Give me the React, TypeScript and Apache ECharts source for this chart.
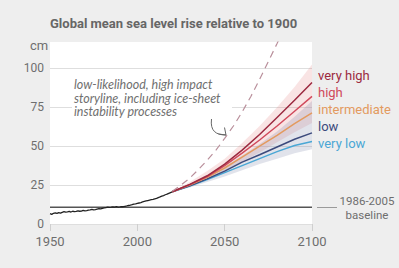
import React, { useEffect, useRef } from "react";
import * as echarts from "echarts";

// ---- data ----
const obsYears = [
  1950, 1951, 1952, 1953, 1954, 1955, 1956, 1957, 1958, 1959,
  1960, 1961, 1962, 1963, 1964, 1965, 1966, 1967, 1968, 1969,
  1970, 1971, 1972, 1973, 1974, 1975, 1976, 1977, 1978, 1979,
  1980, 1981, 1982, 1983, 1984, 1985, 1986, 1987, 1988, 1989,
  1990, 1991, 1992, 1993, 1994, 1995, 1996, 1997, 1998, 1999,
  2000, 2001, 2002, 2003, 2004, 2005, 2006, 2007, 2008, 2009,
  2010, 2011, 2012, 2013, 2014, 2015, 2016, 2017, 2018, 2019, 2020,
];
const obsValues = [
  6.6, 6.2, 6.9, 7.1, 6.8, 7.3, 7.0, 7.5, 7.9, 7.6,
  7.8, 8.1, 7.7, 8.2, 8.0, 8.1, 8.4, 8.2, 8.3, 8.7,
  8.5, 8.6, 8.9, 9.1, 9.4, 9.1, 9.3, 9.6, 9.9, 9.7,
  10.0, 10.3, 10.6, 10.9, 10.7, 10.8, 11.0, 10.8, 11.1, 10.9,
  11.0, 11.2, 11.1, 11.4, 11.6, 11.9, 12.1, 12.4, 12.8, 12.9,
  13.2, 13.5, 13.8, 14.2, 14.5, 14.8, 15.1, 15.4, 15.7, 15.9,
  16.2, 16.5, 17.0, 17.4, 17.9, 18.3, 18.8, 19.2, 19.7, 20.2, 20.7,
];

const scenYears = [2020, 2030, 2040, 2050, 2060, 2070, 2080, 2090, 2100];
const veryHigh = [20.7, 25.5, 31, 38.5, 47.5, 57.5, 68.5, 79.5, 91];
const high = [20.7, 25.3, 30.5, 37.5, 45.5, 54, 63, 72.5, 82];
const intermediate = [20.7, 25, 30, 36, 43, 50, 57, 64.5, 71.5];
const low = [20.7, 24.6, 29, 34, 39.8, 44.5, 49.5, 54.5, 58.6];
const veryLow = [20.7, 24.4, 28.5, 33, 37.5, 42, 46.5, 50.5, 53];

const pinkLower = [20.7, 24.5, 29, 34, 40, 46, 52.5, 59, 65];
const pinkUpper = [20.7, 27, 34, 42, 52, 63, 75, 88, 102.5];
const greyLower = [20.7, 23.5, 27, 30.5, 34.5, 38.5, 42, 45.5, 48];
const greyUpper = [20.7, 25, 30.5, 37, 44, 51.5, 59.5, 69, 79];

const stormYears = [2020, 2025, 2030, 2035, 2040, 2045, 2050, 2055, 2060, 2065, 2070, 2075, 2080, 2085];
const stormValues = [21, 25, 29.5, 35, 41, 47.5, 55, 63, 72, 82, 93, 104.5, 116, 128];

const baselineValue = 10.8;
const baselineYears = [1950, 2100];

const scenarioNames = ["very high", "high", "intermediate", "low", "very low"];
const scenarioData = [veryHigh, high, intermediate, low, veryLow];
const scenarioColors = ["#9c2a40", "#d04a5c", "#e39a5f", "#3c4a7c", "#4aa7d5"];

const annotationLines = [
  "low-likelihood, high impact",
  "storyline, including ice-sheet",
  "instability processes",
];

const yMin = 0;
const yMax = 117;
const yInterval = 25;
const xMin = 1950;
const xMax = 2100;
const xInterval = 50;

const FONT = 'Roboto, "Liberation Sans", sans-serif';
const TEXT = "#6e6e6e";

const zip = (xs: number[], ys: number[]) => xs.map((x, i) => [x, ys[i]]);

function bandSeries(name: string, lower: number[], upper: number[], color: string) {
  return {
    type: "custom",
    name,
    silent: true,
    clip: true,
    z: 1,
    data: scenYears.map((x, i) => [x, lower[i], upper[i]]),
    renderItem: (params: any, api: any) => {
      if (params.dataIndex !== 0) return null;
      const top = scenYears.map((x, i) => api.coord([x, upper[i]]));
      const bottom = scenYears.map((x, i) => api.coord([x, lower[i]])).reverse();
      return {
        type: "polygon",
        shape: { points: top.concat(bottom) },
        style: { fill: color },
      };
    },
  };
}

export default function App() {
  const ref = useRef<HTMLDivElement>(null);

  useEffect(() => {
    if (!ref.current) return;
    const chart = echarts.init(ref.current, null, { renderer: "svg" });

    const lineBase = {
      type: "line" as const,
      symbol: "none",
      silent: true,
      clip: true,
    };

    const series: any[] = [
      bandSeries("pinkBand", pinkLower, pinkUpper, "rgba(225,120,120,0.2)"),
      bandSeries("greyBand", greyLower, greyUpper, "rgba(130,140,170,0.24)"),
      {
        ...lineBase,
        name: "baseline",
        data: baselineYears.map((y) => [y, baselineValue]),
        lineStyle: { color: "#555", width: 1.6 },
      },
      {
        ...lineBase,
        name: "observed",
        data: zip(obsYears, obsValues),
        lineStyle: { color: "#222", width: 1.3 },
      },
      ...scenarioNames
        .map((n, i) => ({
          ...lineBase,
          name: n,
          data: zip(scenYears, scenarioData[i]),
          lineStyle: { color: scenarioColors[i], width: 1.5 },
        }))
        .reverse(),
      {
        ...lineBase,
        name: "storyline",
        data: zip(stormYears, stormValues),
        lineStyle: { color: "#b98f9b", width: 1.2, type: [7, 5] },
      },
    ];

    const graphic: any[] = [
      {
        type: "text",
        left: 30,
        top: 39,
        style: { text: "cm", fontSize: 13, fontFamily: FONT, fill: TEXT },
      },
      {
        type: "rect",
        z: 49,
        shape: { x: 72, y: 77, width: 160, height: 41 },
        style: { fill: "#ffffff" },
      },
      ...annotationLines.map((t, i) => ({
        type: "text",
        x: 74,
        y: 84.3 + i * 13.7,
        z: 50,
        style: {
          text: t,
          fontSize: 12.5,
          fontStyle: "italic",
          fontFamily: "Lato, 'DejaVu Sans', sans-serif",
          fill: "#707070",
          textVerticalAlign: "middle",
        },
      })),
      {
        type: "bezierCurve",
        z: 50,
        shape: { x1: 211.5, y1: 119, cpx1: 210, cpy1: 131, cpx2: 216, cpy2: 135, x2: 226, y2: 135 },
        style: { stroke: "#666", lineWidth: 1, fill: null },
      },
      {
        type: "polyline",
        z: 50,
        shape: { points: [[224.5, 127.5], [226, 135], [218.5, 134]] },
        style: { stroke: "#666", lineWidth: 1, fill: null },
      },
      ...scenarioNames.map((n, i) => ({
        type: "text",
        x: 318,
        y: 75 + i * 17,
        style: {
          text: n,
          fontSize: 13,
          fontFamily: FONT,
          fill: scenarioColors[i],
          textVerticalAlign: "middle",
        },
      })),
      {
        type: "line",
        shape: { x1: 317, y1: 207.5, x2: 337, y2: 207.5 },
        style: { stroke: "#9a9a9a", lineWidth: 1 },
      },
      {
        type: "text",
        x: 367,
        y: 201,
        style: {
          text: "1986-2005",
          fontSize: 11.5,
          fontFamily: FONT,
          fill: TEXT,
          textAlign: "center",
          textVerticalAlign: "middle",
        },
      },
      {
        type: "text",
        x: 367,
        y: 215,
        style: {
          text: "baseline",
          fontSize: 11.5,
          fontFamily: FONT,
          fill: TEXT,
          textAlign: "center",
          textVerticalAlign: "middle",
        },
      },
    ];

    chart.setOption({
      animation: false,
      backgroundColor: "#eeeeee",
      title: {
        text: "{b|Global mean sea level rise}{n| relative to 1900}",
        left: 50,
        top: 17,
        padding: 0,
        textStyle: {
          rich: {
            b: { fontSize: 13, fontWeight: "bold", fontFamily: FONT, color: "#666" },
            n: { fontSize: 13, fontFamily: FONT, color: "#666" },
          },
        },
      },
      grid: {
        left: 50,
        top: 42,
        width: 262,
        height: 182,
        show: true,
        backgroundColor: "#ffffff",
        borderWidth: 0,
        containLabel: false,
      },
      xAxis: {
        type: "value",
        min: xMin,
        max: xMax,
        interval: xInterval,
        axisLine: { show: false },
        axisTick: { show: true, length: 7, lineStyle: { color: "#cfcfcf" } },
        splitLine: { show: false },
        axisLabel: {
          fontSize: 13,
          fontFamily: FONT,
          color: TEXT,
          margin: 11,
          formatter: (v: number) => String(v),
        },
      },
      yAxis: {
        type: "value",
        min: yMin,
        max: yMax,
        interval: yInterval,
        axisLine: { show: false },
        axisTick: { show: false },
        splitLine: { show: true, showMaxLine: false, lineStyle: { color: "#dedede", width: 1 } },
        axisLabel: {
          fontSize: 12,
          fontFamily: FONT,
          color: TEXT,
          margin: 6,
          showMaxLabel: false,
          formatter: (v: number) => (v % yInterval === 0 ? String(v) : ""),
        },
      },
      series,
      graphic,
    });

    return () => chart.dispose();
  }, []);

  return (
    <div
      ref={ref}
      style={{ position: "fixed", left: 0, top: 0, width: 399, height: 268 }}
    />
  );
}
